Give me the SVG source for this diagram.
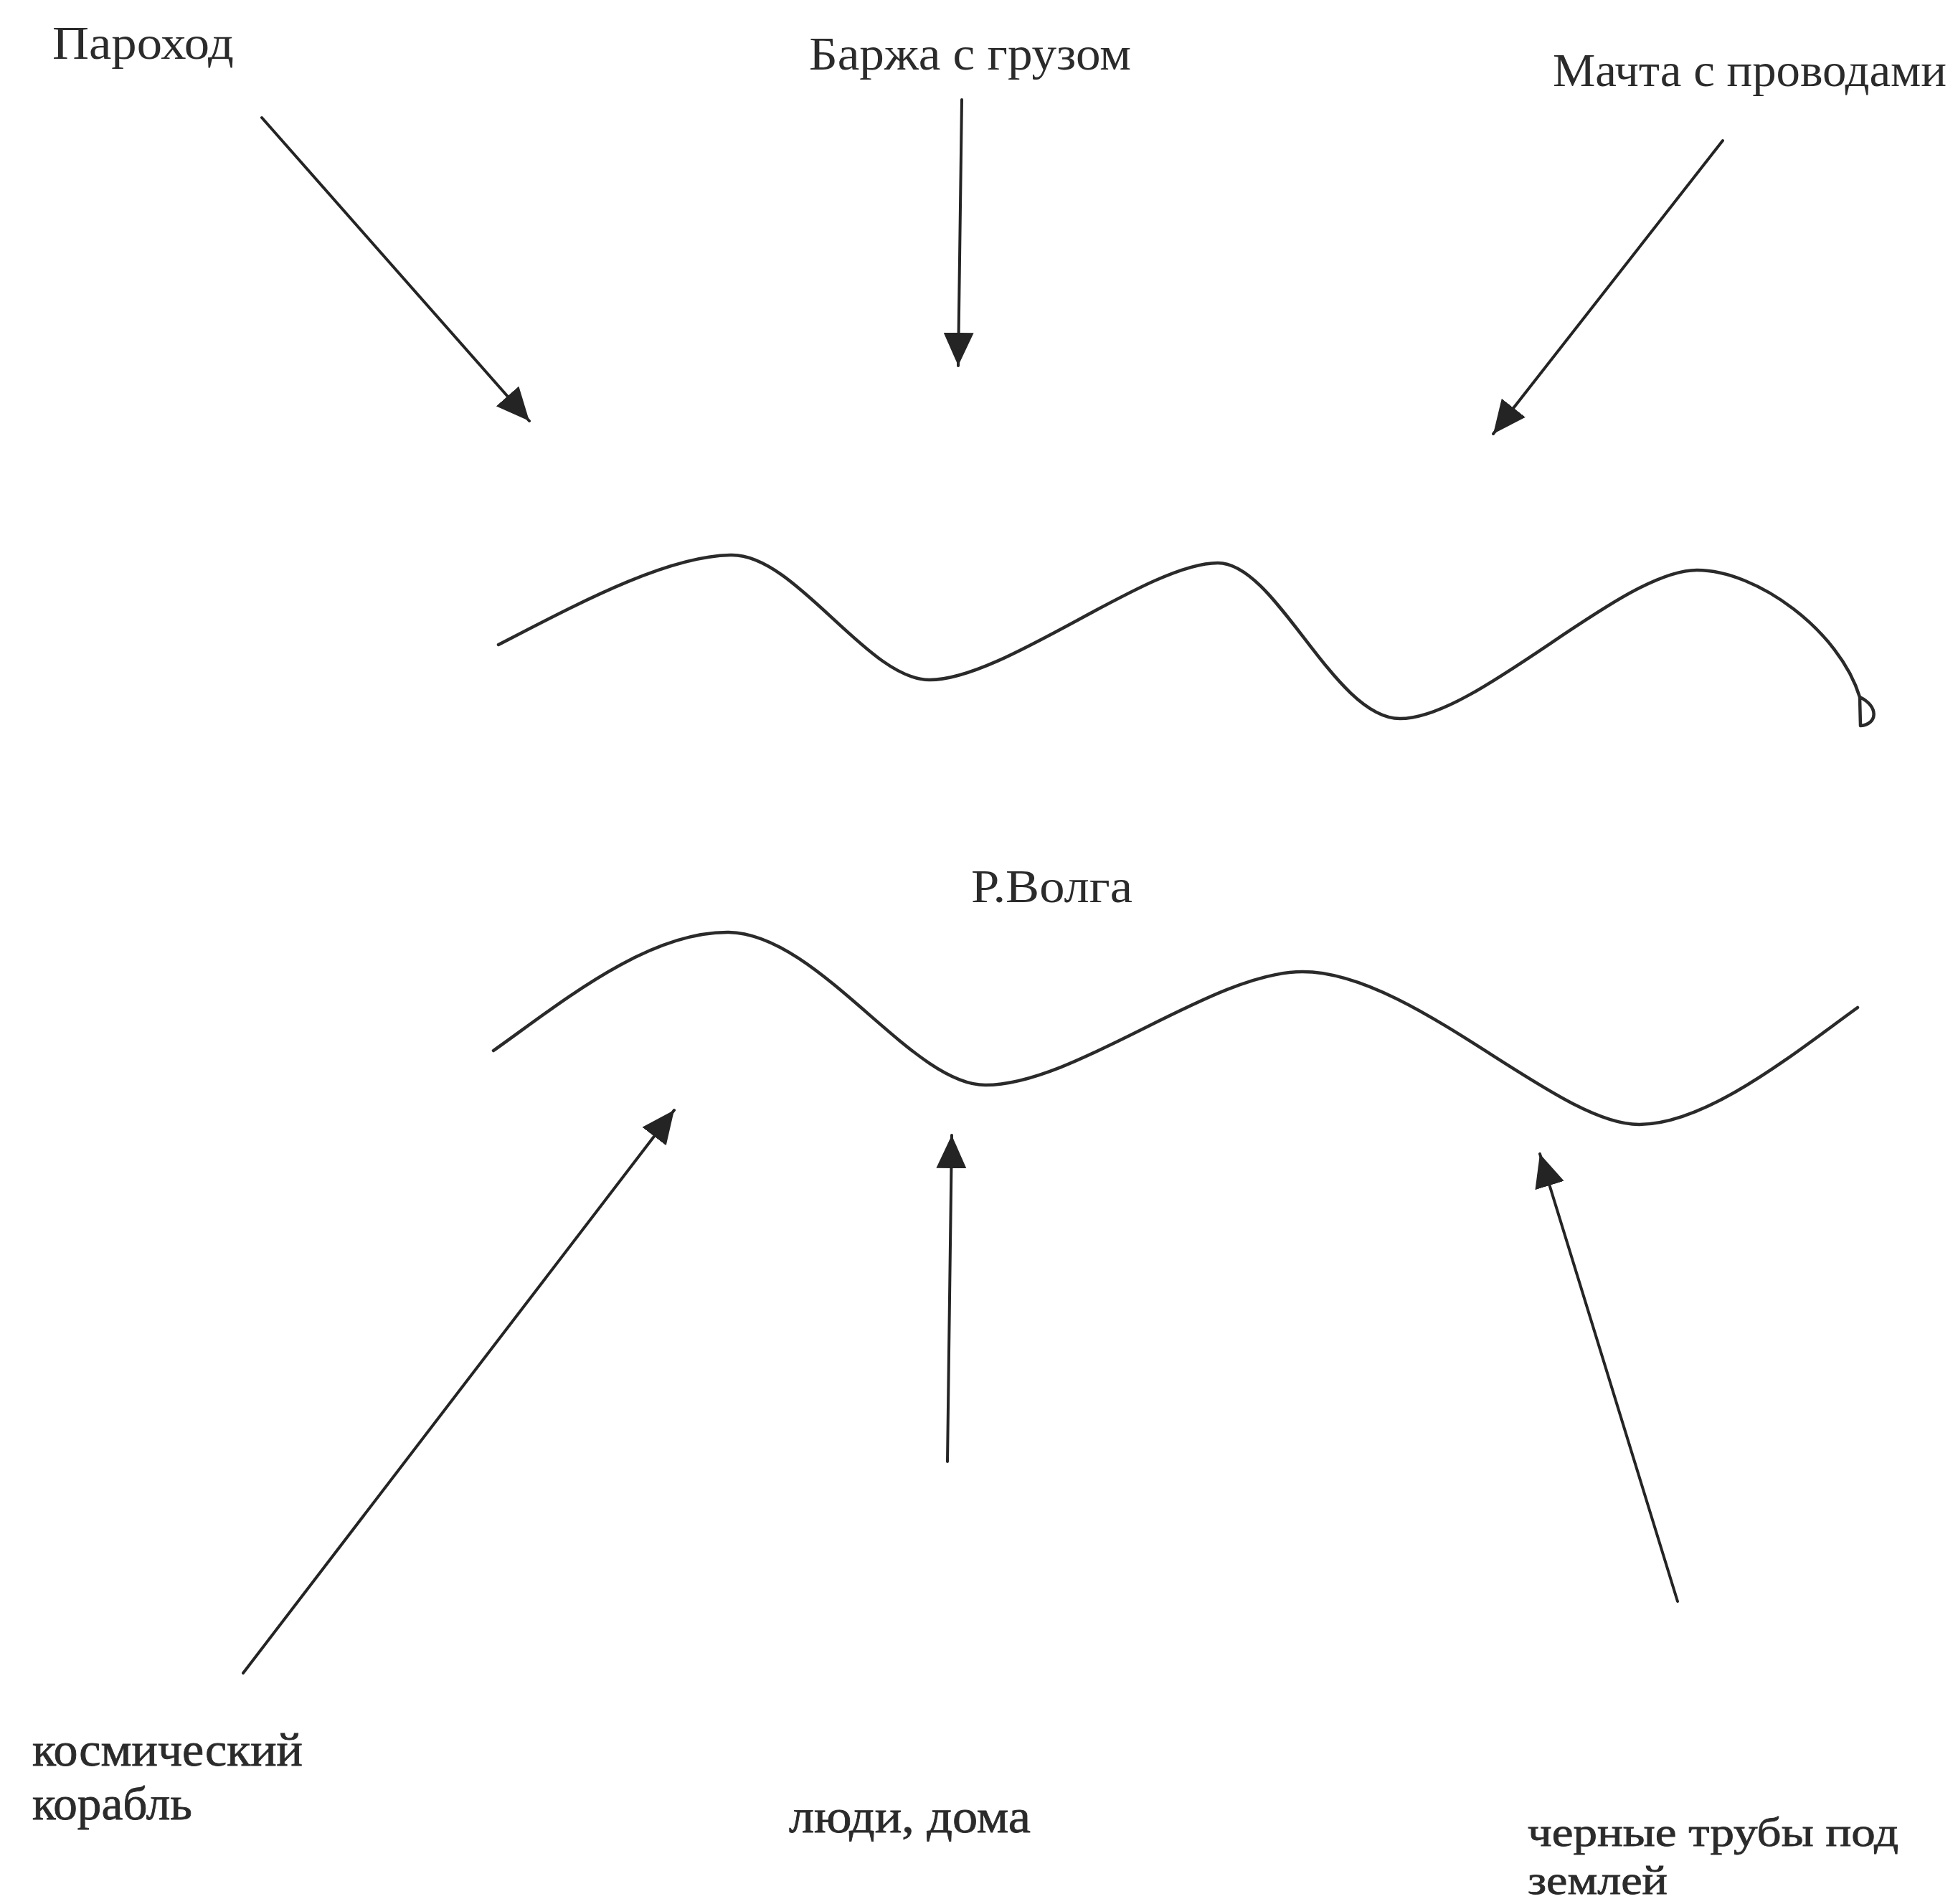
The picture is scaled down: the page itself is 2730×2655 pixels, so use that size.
<svg xmlns="http://www.w3.org/2000/svg" width="2730" height="2655" viewBox="0 0 2730 2655">
  <style>
    .lbl { font-family: "Liberation Serif", "Times New Roman", serif; fill: #2b2b2b; }
    .top { font-size: 66px; }
    .bot { font-size: 66px; stroke: #2b2b2b; stroke-width: 0.8px; }
    .sm { font-size: 56px; }
    .bank { fill: none; stroke: #2a2a2a; stroke-width: 4.5; stroke-linecap: round; stroke-linejoin: round; }
    .arrow { fill: none; stroke: #242424; stroke-width: 4; stroke-linecap: round; marker-end: url(#head); }
  </style>
  <defs>
    <marker id="head" markerUnits="userSpaceOnUse" markerWidth="46" markerHeight="42" viewBox="0 0 46 42" refX="46" refY="21" orient="auto">
      <path d="M0,0 L46,21 L0,42 z" fill="#242424"/>
    </marker>
  </defs>
  <rect x="0" y="0" width="2730" height="2655" fill="#ffffff"/>

  <g id="river">
    <g id="upper-bank">
      <path class="bank" d="M695,899 C800,845 930,774 1021,774 C1110,774 1210,948 1296,948 C1400,948 1600,785 1698,785 C1780,785 1860,1002 1952,1002 C2060,1002 2260,795 2366,795 C2450,795 2565,880 2593,972 C2620,985 2618,1010 2594,1012 L2593,972"/>
    </g>
    <g id="lower-bank">
      <path class="bank" d="M688,1465 C780,1400 900,1300 1014,1300 C1140,1300 1270,1513 1374,1513 C1500,1513 1690,1355 1816,1355 C1970,1355 2170,1568 2285,1568 C2380,1568 2500,1470 2590,1405"/>
    </g>
  </g>

  <g id="node-parokhod">
    <text class="lbl top" x="73" y="82" textLength="253" lengthAdjust="spacingAndGlyphs">Пароход</text>
  </g>
  <g id="node-barzha">
    <text class="lbl top" x="1128" y="97" textLength="449" lengthAdjust="spacingAndGlyphs">Баржа с грузом</text>
  </g>
  <g id="node-machta">
    <text class="lbl top" x="2165" y="120" textLength="549" lengthAdjust="spacingAndGlyphs">Мачта с проводами</text>
  </g>
  <g id="node-volga">
    <text class="lbl top" x="1354" y="1258" textLength="225" lengthAdjust="spacingAndGlyphs">Р.Волга</text>
  </g>
  <g id="node-korabl">
    <text class="lbl bot" x="45" y="2462" textLength="377" lengthAdjust="spacingAndGlyphs">космический</text>
    <text class="lbl bot" x="45" y="2537" textLength="223" lengthAdjust="spacingAndGlyphs">корабль</text>
  </g>
  <g id="node-lyudi">
    <text class="lbl bot" x="1100" y="2555" textLength="337" lengthAdjust="spacingAndGlyphs">люди, дома</text>
  </g>
  <g id="node-truby">
    <text class="lbl bot sm" x="2130" y="2574" textLength="517" lengthAdjust="spacingAndGlyphs">черные трубы под</text>
    <text class="lbl bot sm" x="2130" y="2641" textLength="195" lengthAdjust="spacingAndGlyphs">землей</text>
  </g>

  <g id="connectors">
    <line class="arrow" x1="365" y1="164" x2="738" y2="587"/>
    <line class="arrow" x1="1341" y1="139" x2="1336" y2="510"/>
    <line class="arrow" x1="2402" y1="196" x2="2082" y2="605"/>
    <line class="arrow" x1="339" y1="2333" x2="940" y2="1548"/>
    <line class="arrow" x1="1321" y1="2038" x2="1327" y2="1583"/>
    <line class="arrow" x1="2339" y1="2233" x2="2147" y2="1609"/>
  </g>
</svg>
